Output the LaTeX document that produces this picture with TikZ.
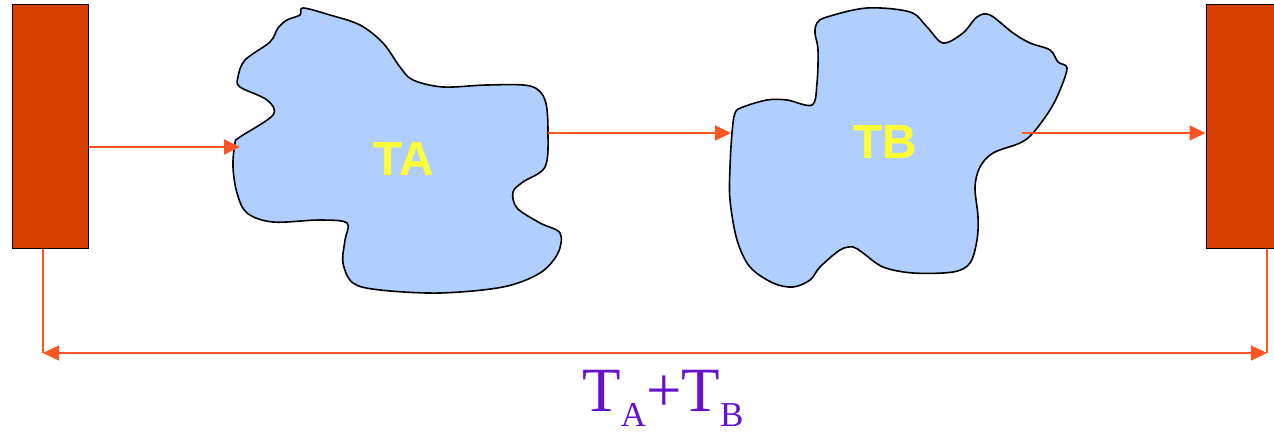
\documentclass[tikz,border=0pt]{standalone}
\usepackage{fontspec}
\setmainfont{Liberation Serif}
\newfontfamily\arialfont{Liberation Sans}
\usepackage{tikz,xcolor}
\usetikzlibrary{arrows.meta,calc}

\definecolor{stagered}{RGB}{214,64,0}
\definecolor{blobblue}{RGB}{176,207,255}
\definecolor{flowred}{RGB}{255,85,34}
\definecolor{taskyellow}{RGB}{255,255,51}
\definecolor{sumpurple}{RGB}{102,17,204}

\tikzset{
  stage/.style={draw=black,fill=stagered,line width=1pt,minimum width=76pt,minimum height=244pt,inner sep=0pt},
  blob/.style={draw=black,fill=blobblue,line width=1.6pt,line join=round},
  tasklabel/.style={text=taskyellow,inner sep=0pt,font=\arialfont\bfseries\fontsize{48}{48}\selectfont},
  flow/.style={draw=flowred,line width=1.8pt,-{Triangle[length=16pt,width=15pt]}},
  dim/.style={draw=flowred,line width=1.3pt},
}

\begin{document}
\begin{tikzpicture}[x=1pt,y=-1pt]
  \useasboundingbox (0,0) rectangle (1274,435);

  \node[stage] (start) at (50,127) {};
  \node[stage] (finish) at (1244,127) {};

  % task A
  \draw[blob] plot[smooth cycle,tension=0.55] coordinates {
    (303,8) (330,15) (360,25) (383,43) (400,67) (413,80) (443,87) (487,85)
    (530,86) (545,100) (548,133) (545,167) (523,182) (513,192) (517,208)
    (540,223) (560,233) (558,253) (540,273) (503,287) (440,293) (380,290)
    (353,283) (343,263) (345,240) (347,223) (320,220) (273,222) (247,213)
    (237,193) (233,167) (235,143) (240,137) (273,115) (267,100) (240,87)
    (238,77) (245,60) (270,42) (278,28) (287,20) (300,15)};
  \node[tasklabel] (ta) at (404,159) {TA};

  % task B
  \draw[blob] plot[smooth cycle,tension=0.55] coordinates {
    (817,23) (827,17) (867,8) (910,12) (927,27) (943,43) (963,33) (977,17)
    (990,15) (1013,33) (1030,43) (1050,50) (1058,62) (1067,68) (1060,90)
    (1050,110) (1033,133) (1020,143) (993,153) (980,167) (975,187) (978,217)
    (977,240) (970,263) (953,272) (913,273) (883,267) (863,253) (853,247)
    (840,250) (820,267) (810,280) (793,287) (773,283) (750,267) (737,240)
    (730,200) (730,167) (732,133) (735,113) (743,107) (767,100) (787,100)
    (812,105) (817,83) (818,50) (815,33)};
  \node[tasklabel] (tb) at (885,142) {TB};

  \coordinate (ta-in) at (240,147);
  \coordinate (ta-out) at (548,133);
  \coordinate (tb-in) at (731,133);
  \coordinate (tb-out) at (1022,133);

  \draw[flow] (start.east |- ta-in) -- (ta-in);
  \draw[flow] (ta-out) -- (tb-in);
  \draw[flow] (tb-out) -- (finish.west |- tb-out);

  % total time
  \coordinate (tot-l) at (43,353);
  \coordinate (tot-r) at (1267,353);
  \draw[dim] (start.south -| tot-l) -- (tot-l);
  \draw[dim] (finish.south -| tot-r) -- (tot-r);
  \draw[dim,{Triangle[length=16pt,width=15pt]}-{Triangle[length=16pt,width=15pt]}] (tot-l) -- (tot-r);
  \node[text=sumpurple,anchor=base,inner sep=0pt] (sum) at (663,411)
    {\fontsize{63}{63}\selectfont T\raisebox{-15pt}{\fontsize{35}{35}\selectfont A}+T\raisebox{-15pt}{\fontsize{35}{35}\selectfont B}};
\end{tikzpicture}
\end{document}
